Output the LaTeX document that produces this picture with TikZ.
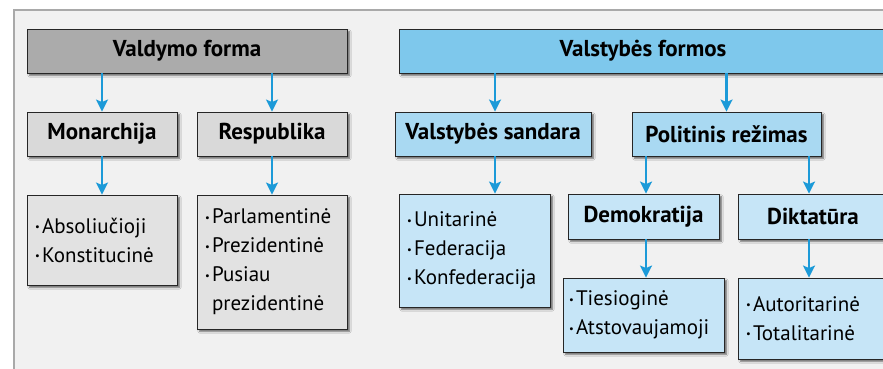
\documentclass[tikz,border=0pt]{standalone}
\usepackage{fontspec}
\setmainfont{PT Sans}
\usetikzlibrary{arrows.meta,shadows.blur}
\definecolor{panelbg}{HTML}{F1F1F1}
\definecolor{panelln}{HTML}{A9A9A9}
\definecolor{greyA}{HTML}{ABABAB}
\definecolor{greyB}{HTML}{D9D9D9}
\definecolor{greyC}{HTML}{E2E2E2}
\definecolor{blueA}{HTML}{7EC8EC}
\definecolor{blueB}{HTML}{A9D9F2}
\definecolor{blueC}{HTML}{C6E5F7}
\definecolor{arrblue}{HTML}{1C9AD8}
\newcommand\bul{\makebox[7pt][l]{\raisebox{0.12em}{\scalebox{0.5}{•}}}}
\tikzset{
  box/.style={draw=black!85, line width=0.9pt, rectangle, inner sep=0pt,
    blur shadow={shadow xshift=2.5pt, shadow yshift=-2.5pt, shadow blur radius=1.6pt, shadow opacity=55}},
  hdr/.style={box, font=\bfseries\fontsize{23}{26}\selectfont},
  lst/.style={box, font=\fontsize{21}{29}\selectfont, align=left, inner xsep=8pt},
  arr/.style={draw=arrblue, line width=2.2pt, -{Stealth[length=12pt,width=12pt,inset=2.5pt]}, shorten >=0pt}
}
\begin{document}
\begin{tikzpicture}[x=1pt,y=-1pt]
\useasboundingbox (0,0) rectangle (883,369);
\fill[white] (0,0) rectangle (883,369);
\fill[panelbg] (14,10) rectangle (890,375);
\draw[panelln, line width=1.3pt] (14,375) -- (14,10) -- (890,10);
% left part
\node[hdr, fill=greyA, minimum width=320pt, minimum height=44pt] (vf) at (187,51) {Valdymo forma};
\node[hdr, fill=greyB, minimum width=150pt, minimum height=44pt] (mon) at (102,134) {Monarchija};
\node[hdr, fill=greyB, minimum width=150pt, minimum height=44pt] (resp) at (272,134) {Respublika};
\node[lst, fill=greyC, text width=134pt, minimum height=90pt] (abs) at (102,240)
  {\bul Absoliučioji\\\bul Konstitucinė};
\node[lst, fill=greyC, text width=134pt, minimum height=134pt] (pres) at (272,262)
  {\bul Parlamentinė\\\bul Prezidentinė\\\bul Pusiau\\\hspace*{7pt}prezidentinė};
% right part
\node[hdr, fill=blueA, minimum width=488pt, minimum height=44pt] (vsf) at (643,51) {Valstybės formos};
\node[hdr, fill=blueB, minimum width=196pt, minimum height=44pt] (vsand) at (493,134) {Valstybės sandara};
\node[hdr, fill=blueB, minimum width=189pt, minimum height=44pt] (polr) at (726.5,134) {Politinis režimas};
\node[lst, fill=blueC, text width=135pt, minimum height=113pt] (unit) at (474.5,250.5)
  {\bul Unitarinė\\\bul Federacija\\\bul Konfederacija};
\node[hdr, fill=blueC, minimum width=151pt, minimum height=45pt] (demo) at (643.5,216.5) {Demokratija};
\node[hdr, fill=blueC, minimum width=150pt, minimum height=45pt] (dikt) at (813,216.5) {Diktatūra};
\node[lst, fill=blueC, text width=149pt, minimum height=74pt, inner xsep=6pt] (ties) at (643.5,315)
  {\bul Tiesioginė\\\bul Atstovaujamoji};
\node[lst, fill=blueC, text width=134pt, minimum height=81pt] (auto) at (813,318.5)
  {\bul Autoritarinė\\\bul Totalitarinė};
% arrows
\draw[arr] (vf.south -| mon.north) -- (mon.north);
\draw[arr] (vf.south -| resp.north) -- (resp.north);
\draw[arr] (mon.south) -- (abs.north);
\draw[arr] (resp.south) -- (pres.north);
\draw[arr] ([xshift=2pt]vsf.south -| vsand.north) -- ([xshift=2pt]vsand.north);
\draw[arr] (vsf.south -| polr.north) -- (polr.north);
\draw[arr] ([xshift=2pt]vsand.south) -- ([xshift=2pt]vsand.south |- unit.north);
\draw[arr] ([xshift=2.5pt]polr.south -| demo.north) -- ([xshift=2.5pt]demo.north);
\draw[arr] ([xshift=-4pt]polr.south -| dikt.north) -- ([xshift=-4pt]dikt.north);
\draw[arr] ([xshift=2.5pt]demo.south) -- ([xshift=2.5pt]demo.south |- ties.north);
\draw[arr] ([xshift=-4pt]dikt.south) -- ([xshift=-4pt]dikt.south |- auto.north);
\end{tikzpicture}
\end{document}
